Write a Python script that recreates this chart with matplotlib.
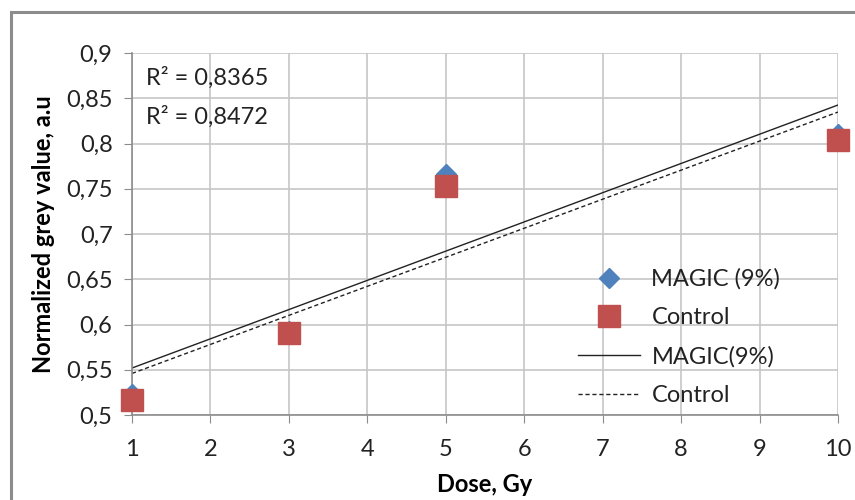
import numpy as np
import matplotlib
matplotlib.use("Agg")
import matplotlib.pyplot as plt
from matplotlib.patches import Rectangle
from matplotlib.ticker import FuncFormatter

# Dose points and normalized grey values
dose = [1, 3, 5, 10]
magic = [0.523, 0.593, 0.766, 0.810]
control = [0.517, 0.591, 0.753, 0.804]
r2_magic = "0,8365"
r2_control = "0,8472"
x_ticks = list(range(1, 11))
y_ticks = [0.5, 0.55, 0.6, 0.65, 0.7, 0.75, 0.8, 0.85, 0.9]

plt.rcParams["font.family"] = ["Lato", "DejaVu Sans"]

fig = plt.figure(figsize=(8.55, 5.0), dpi=100)
ax = fig.add_axes([0.1544, 0.17, 0.8257, 0.724])

# chart border
fig.patches.append(Rectangle((11 / 855, -0.1), 1.2, 1 - 12 / 500 + 0.1,
                             transform=fig.transFigure, fill=False,
                             edgecolor="#8c8c8c", linewidth=2.2))

grid_c = "#c6c6c6"
fs = 17
ax.set_xlim(1, 10)
ax.set_ylim(0.5, 0.9)
ax.set_xticks(x_ticks)
ax.set_yticks(y_ticks)
ax.grid(True, color=grid_c, linewidth=1.2)
ax.set_axisbelow(True)
for s in ["top", "right"]:
    ax.spines[s].set_visible(False)
for s in ["left", "bottom"]:
    ax.spines[s].set_color("#8c8c8c")
    ax.spines[s].set_linewidth(1.2)
ax.tick_params(axis="both", which="both", direction="out", length=6,
               color="#8c8c8c", labelsize=fs, labelcolor="#222222")
ax.tick_params(axis="x", pad=11)
ax.tick_params(axis="y", pad=8)
ax.yaxis.set_major_formatter(FuncFormatter(lambda v, p: f"{v:g}".replace(".", ",")))

# linear trend lines
xs = np.array([dose[0], dose[-1]], dtype=float)
pm = np.polyfit(dose, magic, 1)
pc = np.polyfit(dose, control, 1)

ax.plot(dose, magic, linestyle="none", marker="D", markersize=10,
        color="#4f81bd", label="MAGIC (9%)", clip_on=False, zorder=3)
ax.plot(dose, control, linestyle="none", marker="s", markersize=16,
        color="#c0504d", label="Control", clip_on=False, zorder=4)
ax.plot(xs, np.polyval(pm, xs), color="#222222", linewidth=1.0,
        label="MAGIC(9%)", zorder=2)
ax.plot(xs, np.polyval(pc, xs), color="#222222", linewidth=1.0,
        linestyle=(0, (3, 2)), label="Control", zorder=2)

ax.text(1.18, 0.873, f"R² = {r2_magic}", fontsize=fs, color="#222222",
        va="center", ha="left")
ax.text(1.18, 0.829, f"R² = {r2_control}", fontsize=fs, color="#222222",
        va="center", ha="left")

leg = ax.legend(loc="lower left", bbox_to_anchor=(0.632, 0.025), frameon=False,
                fontsize=fs, handlelength=2.6, labelspacing=0.74,
                handletextpad=0.5, borderaxespad=0.0, borderpad=0.0)
for t in leg.get_texts():
    t.set_color("#222222")

ax.set_xlabel("Dose, Gy", fontsize=fs, fontweight="bold", labelpad=10)
ax.set_ylabel("Normalized grey value, a.u", fontsize=fs, fontweight="bold",
              labelpad=8)

fig.savefig("out.png", dpi=100)
